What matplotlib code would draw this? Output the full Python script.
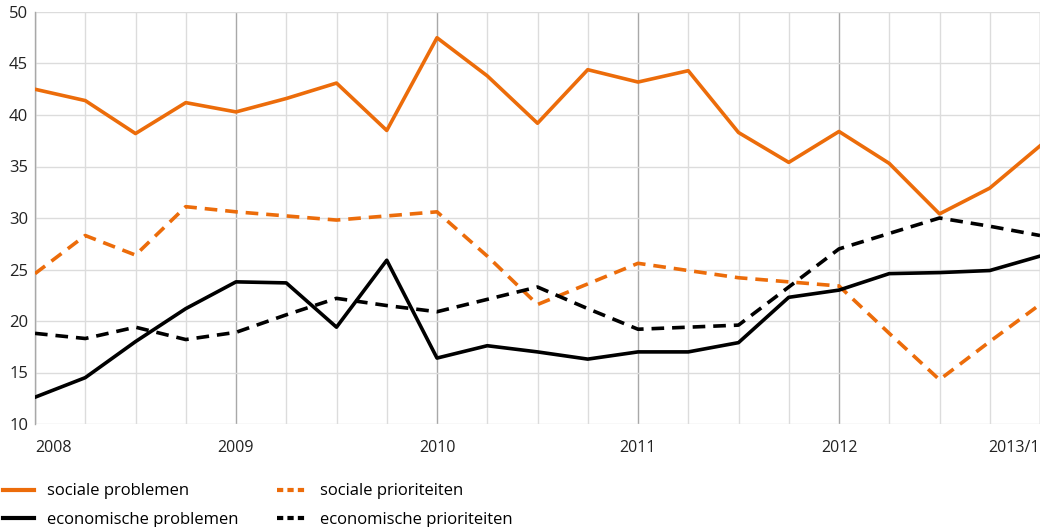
import matplotlib
matplotlib.use("Agg")
import matplotlib.pyplot as plt
from matplotlib.lines import Line2D

plt.rcParams['font.family'] = ['Open Sans', 'DejaVu Sans']

# quarters 2008/1 .. 2013/1
quarters = list(range(21))
year_ticks = [0, 4, 8, 12, 16, 20]
year_labels = ["2008", "2009", "2010", "2011", "2012", "2013/1"]

sociale_problemen = [42.5, 41.4, 38.2, 41.2, 40.3, 41.6, 43.1, 38.5, 47.5, 43.8, 39.2,
                     44.4, 43.2, 44.3, 38.3, 35.4, 38.4, 35.3, 30.4, 32.9, 37.0]
sociale_prioriteiten = [24.6, 28.3, 26.4, 31.1, 30.6, 30.2, 29.8, 30.2, 30.6, 26.3, 21.6,
                        23.6, 25.6, 24.9, 24.2, 23.8, 23.4, 18.8, 14.3, 18.0, 21.6]
economische_problemen = [12.6, 14.5, 18.0, 21.2, 23.8, 23.7, 19.4, 25.9, 16.4, 17.6, 17.0,
                         16.3, 17.0, 17.0, 17.9, 22.3, 23.0, 24.6, 24.7, 24.9, 26.3]
economische_prioriteiten = [18.8, 18.3, 19.4, 18.2, 18.9, 20.6, 22.2, 21.5, 20.9, 22.1, 23.3,
                            21.2, 19.2, 19.4, 19.6, 23.3, 27.0, 28.5, 30.0, 29.2, 28.3]

orange = "#ec6c0a"
black = "#000000"

fig = plt.figure(figsize=(10.4, 5.27), dpi=100)
ax = fig.add_axes([35/1040, 103/527, 1 - 35/1040, 412/527])

# grid
for q in quarters:
    if q % 4 == 0:
        ax.axvline(q, color="#a8a8a8", lw=1.0, zorder=1)
    else:
        ax.axvline(q, color="#dcdcdc", lw=1.0, zorder=1)
for y in range(10, 51, 5):
    ax.axhline(y, color="#dcdcdc", lw=1.0, zorder=1)

lw = 2.6
ax.plot(quarters, sociale_problemen, color=orange, lw=lw, zorder=3)
ax.plot(quarters, sociale_prioriteiten, color=orange, lw=lw, ls=(0, (3.5, 2.2)), zorder=3)
ax.plot(quarters, economische_problemen, color=black, lw=lw, zorder=3)
ax.plot(quarters, economische_prioriteiten, color=black, lw=lw, ls=(0, (3.5, 2.2)), zorder=3)

ax.set_xlim(0, 20)
ax.set_ylim(10, 50)
for s in ["top", "right", "bottom"]:
    ax.spines[s].set_visible(False)
ax.spines["left"].set_color("#a8a8a8")
ax.spines["left"].set_linewidth(1.0)

ax.set_yticks(range(10, 51, 5))
ax.tick_params(axis="y", length=0, pad=5, labelsize=12, colors="#222222")
ax.set_xticks([])
for t, lab in zip(year_ticks, year_labels):
    ha = "center"
    if t == 0:
        ha = "left"
    elif t == 20:
        ha = "right"
    ax.text(t, 8.4, lab, ha=ha, va="top", fontsize=11.5, color="#222222")

handles = [
    Line2D([], [], color=orange, lw=3),
    Line2D([], [], color=black, lw=3),
    Line2D([], [], color=orange, lw=3, ls=(0, (1.5, 1.0))),
    Line2D([], [], color=black, lw=3, ls=(0, (1.5, 1.0))),
]
labels = ["sociale problemen", "economische problemen",
          "sociale prioriteiten", "economische prioriteiten"]
fig.legend(handles, labels, ncol=2, loc="upper left", bbox_to_anchor=(0.0, 1 - 480/527),
           frameon=False, fontsize=12, handlelength=1.85, handletextpad=0.75,
           columnspacing=2.3, labelspacing=0.75, borderaxespad=0.0, borderpad=0.2)

fig.savefig("out.png", dpi=100)
